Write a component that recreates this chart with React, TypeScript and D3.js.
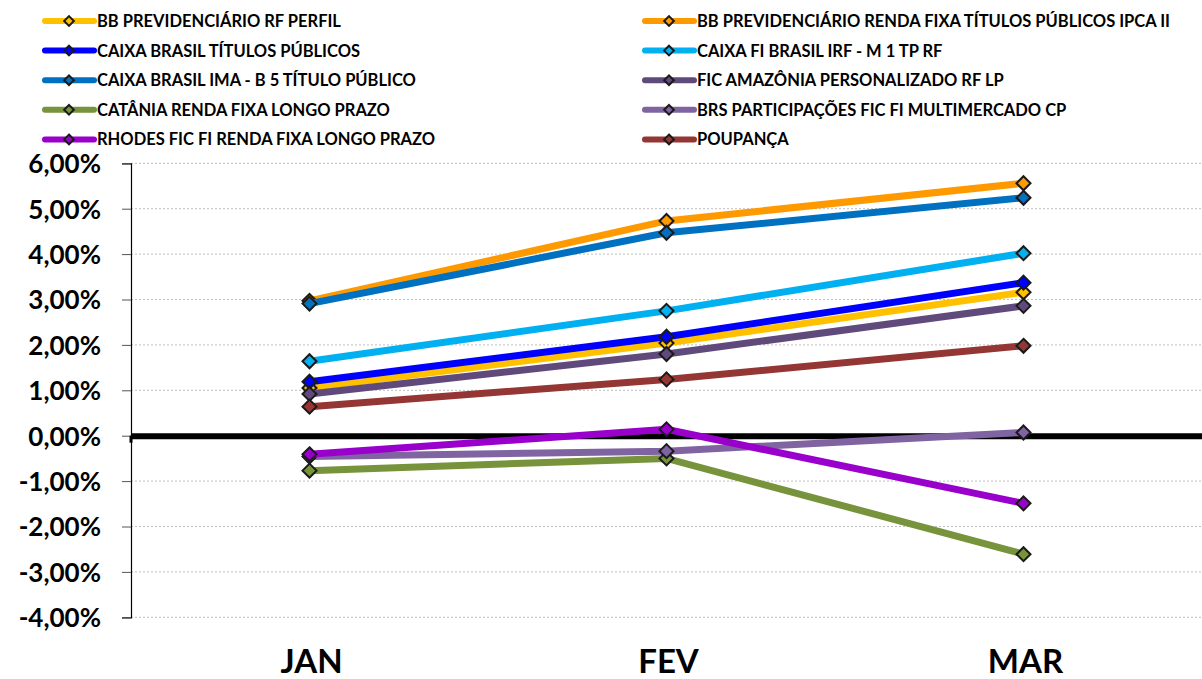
import React, { useRef, useEffect } from "react";
import * as d3 from "d3";

const months = ["JAN", "FEV", "MAR"];

const seriesNames = [
  "BB PREVIDENCIÁRIO RF PERFIL",
  "BB PREVIDENCIÁRIO RENDA FIXA TÍTULOS PÚBLICOS IPCA II",
  "CAIXA BRASIL TÍTULOS PÚBLICOS",
  "CAIXA FI BRASIL IRF - M 1 TP RF",
  "CAIXA BRASIL IMA - B 5 TÍTULO PÚBLICO",
  "FIC AMAZÔNIA PERSONALIZADO RF LP",
  "CATÂNIA RENDA FIXA LONGO PRAZO",
  "BRS PARTICIPAÇÕES FIC FI MULTIMERCADO CP",
  "RHODES FIC FI RENDA FIXA LONGO PRAZO",
  "POUPANÇA",
];

const seriesColors = [
  "#FFC000",
  "#FF9900",
  "#0000FF",
  "#00B0F0",
  "#0070C0",
  "#604A7B",
  "#77933C",
  "#8064A2",
  "#9900CC",
  "#943634",
];

// monthly return (%)
const bbPerfil = [1.05, 2.04, 3.16];
const bbIpca = [2.97, 4.73, 5.56];
const caixaTp = [1.19, 2.18, 3.37];
const caixaIrfm1 = [1.64, 2.75, 4.02];
const caixaImab5 = [2.91, 4.47, 5.24];
const ficAmazonia = [0.92, 1.8, 2.86];
const catania = [-0.77, -0.5, -2.61];
const brs = [-0.46, -0.34, 0.07];
const rhodes = [-0.41, 0.14, -1.49];
const poupanca = [0.64, 1.24, 1.98];

const seriesValues = [bbPerfil, bbIpca, caixaTp, caixaIrfm1, caixaImab5, ficAmazonia, catania, brs, rhodes, poupanca];

const yTicks = [6, 5, 4, 3, 2, 1, 0, -1, -2, -3, -4];

const App = () => {
  const chart = useRef<SVGSVGElement>(null);

  useEffect(() => {
    const svg = d3.select(chart.current);
    svg.selectAll("*").remove();

    const left = 131, right = 1202, top = 163.3, bottom = 617.3;

    const x = d3.scaleBand().domain(months).range([left, right]);
    const y = d3.scaleLinear().domain([-4, 6]).range([bottom, top]);

    // gridlines
    svg.append("g")
      .selectAll("line")
      .data(yTicks)
      .join("line")
        .attr("x1", left).attr("x2", right)
        .attr("y1", d => y(d)).attr("y2", d => y(d))
        .attr("stroke", "#BFBFBF")
        .attr("stroke-width", 1)
        .attr("stroke-dasharray", "2,2");

    // y axis
    const yAxis = svg.append("g")
      .attr("transform", `translate(${left},0)`)
      .call(d3.axisLeft(y).tickValues(yTicks).tickSize(9).tickFormat(d => (d as number).toFixed(2).replace(".", ",") + "%"));
    yAxis.select(".domain").attr("stroke", "#000").attr("stroke-width", 1.2);
    yAxis.selectAll(".tick line").attr("stroke", "#555");
    yAxis.selectAll("text")
      .attr("x", -30)
      .attr("dy", "0.36em")
      .style("font-family", "Lato, 'Open Sans', sans-serif")
      .style("font-weight", "bold")
      .style("font-size", "26px")
      .attr("fill", "#000");

    // zero line / category axis
    const xAxis = svg.append("g")
      .attr("transform", `translate(0,${y(0)})`)
      .call(d3.axisBottom(x).tickSize(0).tickFormat(() => ""));
    xAxis.select(".domain").attr("stroke", "#000").attr("stroke-width", 6);
    svg.append("g")
      .selectAll("line")
      .data(months)
      .join("line")
        .attr("x1", d => x(d)!).attr("x2", d => x(d)!)
        .attr("y1", y(0)).attr("y2", y(0) + 7)
        .attr("stroke", "#000")
        .attr("stroke-width", 3);

    // category labels
    svg.append("g")
      .selectAll("text")
      .data(months)
      .join("text")
        .attr("x", d => x(d)! + x.bandwidth() / 2 + 2)
        .attr("y", 673)
        .attr("text-anchor", "middle")
        .style("font-family", "Lato, 'Open Sans', sans-serif")
        .style("font-weight", "bold")
        .style("font-size", "33px")
        .text(d => d);

    const cx = (i: number) => x(months[i])! + x.bandwidth() / 2;
    const line = d3.line<number>().x((d, i) => cx(i)).y(d => y(d));
    const diamond = d3.symbol().type(d3.symbolDiamond2).size(125);

    // series
    const series = seriesValues.map((vals, k) => ({ name: seriesNames[k], color: seriesColors[k], vals }));

    const sg = svg.append("g")
      .selectAll("g")
      .data(series)
      .join("g");

    sg.append("path")
      .attr("d", d => line(d.vals))
      .attr("fill", "none")
      .attr("stroke", d => d.color)
      .attr("stroke-width", 7);

    sg.selectAll("path.m")
      .data(d => d.vals.map(v => ({ v, color: d.color })))
      .join("path")
        .attr("class", "m")
        .attr("d", diamond)
        .attr("transform", (d, i) => `translate(${cx(i)},${y(d.v)})`)
        .attr("fill", d => d.color)
        .attr("stroke", "#1a1a1a")
        .attr("stroke-width", 2);

    // legend
    const lg = svg.append("g")
      .selectAll("g")
      .data(series)
      .join("g")
        .attr("transform", (d, i) => `translate(${i % 2 === 0 ? 45 : 645},${21 + Math.floor(i / 2) * 29.6})`);

    lg.append("line")
      .attr("x1", 0).attr("x2", 49)
      .attr("stroke", d => d.color)
      .attr("stroke-width", 6)
      .attr("stroke-linecap", "round");
    lg.append("path")
      .attr("d", d3.symbol().type(d3.symbolDiamond2).size(60))
      .attr("transform", "translate(24,0)")
      .attr("fill", d => d.color)
      .attr("stroke", "#1a1a1a")
      .attr("stroke-width", 2);
    lg.append("text")
      .attr("x", 52)
      .attr("dy", "0.36em")
      .style("font-family", "Lato, 'Open Sans', sans-serif")
      .style("font-weight", "bold")
      .style("font-size", "16.5px")
      .text(d => d.name);
  });

  return (
    <div style={{ position: "absolute", left: 0, top: 0 }}>
      <svg ref={chart} width={1202} height={679} style={{ display: "block", background: "#fff" }}></svg>
    </div>
  );
};

export default App;
